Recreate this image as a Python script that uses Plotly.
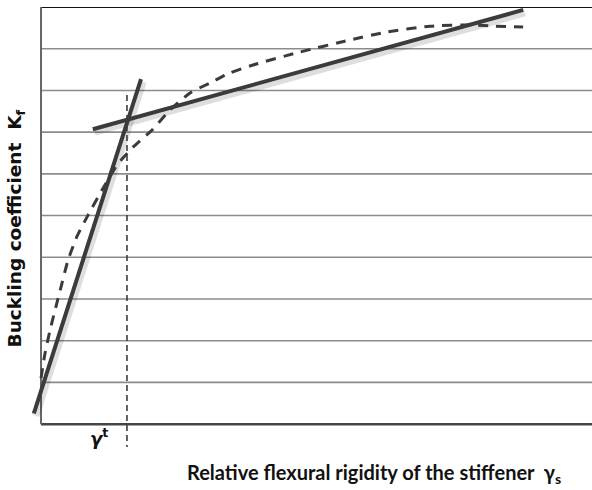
import plotly.graph_objects as go

# ---- data ----
steep_x = [-1.3, 18.15]
steep_y = [0.26, 8.27]

flat_x = [9.4, 87.5]
flat_y = [7.07, 9.93]

gamma_t_x = [15.6, 15.6]
gamma_t_y = [7.89, -0.55]

curve_x = [0.0, 0.73, 1.63, 2.54, 3.81, 4.9, 6.53, 8.53, 11.07, 13.79, 16.7, 20.15,
           23.41, 27.04, 30.67, 34.3, 38.48, 47.0, 56.1, 62.8, 70.6, 78.4, 82.4, 87.5]
curve_y = [1.10, 1.70, 2.25, 2.73, 3.38, 3.93, 4.50, 5.01, 5.61, 6.21, 6.64, 7.05,
           7.53, 7.94, 8.18, 8.42, 8.61, 8.92, 9.21, 9.40, 9.54, 9.57, 9.54, 9.52]

grid_levels = [1, 2, 3, 4, 5, 6, 7, 8, 9]

X_MAX = 100
Y_TOP = 10

DARK = "#3b3b3b"

fig = go.Figure()

# gridlines & frame
shapes = []
for g in grid_levels:
    shapes.append(dict(type="line", xref="x", yref="y", x0=0, x1=X_MAX, y0=g, y1=g,
                       line=dict(color="#8c8c8c", width=1.6), layer="below"))
shapes.append(dict(type="line", xref="x", yref="y", x0=0, x1=X_MAX, y0=Y_TOP, y1=Y_TOP,
                   line=dict(color="#111111", width=2), layer="below"))
shapes.append(dict(type="line", xref="x", yref="y", x0=0, x1=X_MAX, y0=0, y1=0,
                   line=dict(color="#444444", width=2.5), layer="below"))
shapes.append(dict(type="line", xref="x", yref="y", x0=0, x1=0, y0=0, y1=Y_TOP,
                   line=dict(color="#666666", width=2), layer="below"))

# shadows for solid lines
for xs, ys in [(steep_x, steep_y), (flat_x, flat_y)]:
    fig.add_trace(go.Scatter(x=[v + 0.3 for v in xs], y=[v - 0.06 for v in ys], mode="lines",
                             line=dict(color="rgba(0,0,0,0.13)", width=8),
                             hoverinfo="skip", showlegend=False))

fig.add_trace(go.Scatter(x=curve_x, y=curve_y, mode="lines",
                         line=dict(color=DARK, width=3, dash="10px,8px", shape="spline", smoothing=0.6),
                         showlegend=False))
fig.add_trace(go.Scatter(x=gamma_t_x, y=gamma_t_y, mode="lines",
                         line=dict(color=DARK, width=1.6, dash="6px,4px"), showlegend=False))
fig.add_trace(go.Scatter(x=steep_x, y=steep_y, mode="lines",
                         line=dict(color=DARK, width=4), showlegend=False))
fig.add_trace(go.Scatter(x=flat_x, y=flat_y, mode="lines",
                         line=dict(color=DARK, width=4), showlegend=False))

annotations = [
    dict(text="Buckling coefficient  K<sub>f</sub>", xref="paper", yref="paper",
         x=-0.025, y=0.50, textangle=-90, showarrow=False, xanchor="center", yanchor="middle",
         font=dict(family="DejaVu Sans", size=18.5, color="#111111", weight="bold")),
    dict(text="Relative flexural rigidity of the stiffener  γ<sub>s</sub>", xref="paper", yref="paper",
         x=0.612, y=-0.052, showarrow=False, xanchor="center", yanchor="middle",
         font=dict(family="Lato", size=20, color="#111111", weight="bold")),
    dict(text="<i>γ</i><sup>t</sup>", xref="x", yref="y", x=10.6, y=-0.32, showarrow=False,
         xanchor="center", yanchor="middle",
         font=dict(family="DejaVu Sans", size=18, color="#111111", weight="bold")),
]

fig.update_layout(
    width=592, height=490,
    margin=dict(l=30, r=0, t=7, b=40),
    paper_bgcolor="white", plot_bgcolor="white",
    shapes=shapes, annotations=annotations,
    xaxis=dict(range=[-2.0, X_MAX], showgrid=False, zeroline=False, showticklabels=False,
               showline=False, ticks=""),
    yaxis=dict(range=[-0.62, Y_TOP], showgrid=False, zeroline=False, showticklabels=False,
               showline=False, ticks=""),
)

fig.write_html("out.html", config={"displayModeBar": False},
               post_script="document.body.style.margin='0';")
